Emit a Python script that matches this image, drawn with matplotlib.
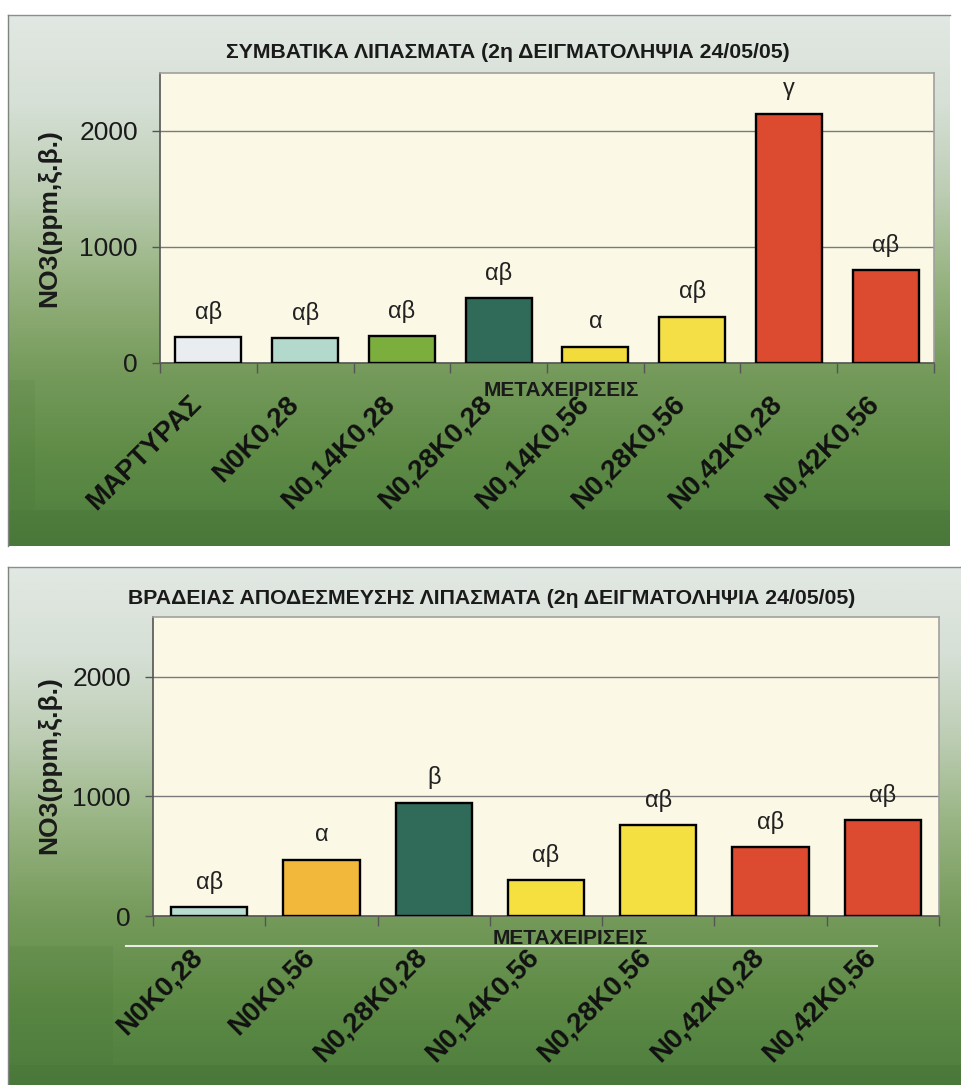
import numpy as np
import matplotlib
matplotlib.use("Agg")
import matplotlib.pyplot as plt
import matplotlib.transforms as mtrans
from matplotlib.colors import LinearSegmentedColormap

plt.rcParams['font.family'] = ['Liberation Sans', 'DejaVu Sans']

# ---------------- data ----------------
title1 = "ΣΥΜΒΑΤΙΚΑ ΛΙΠΑΣΜΑΤΑ (2η ΔΕΙΓΜΑΤΟΛΗΨΙΑ 24/05/05)"
cats1 = ['ΜΑΡΤΥΡΑΣ', 'N0K0,28', 'N0,14K0,28', 'N0,28K0,28',
         'N0,14K0,56', 'N0,28K0,56', 'N0,42K0,28', 'N0,42K0,56']
vals1 = [220, 215, 230, 560, 140, 400, 2150, 800]
letters1 = ['αβ', 'αβ', 'αβ', 'αβ', 'α', 'αβ', 'γ', 'αβ']
colors1 = ['#e9edf0', '#b3d9cc', '#7bae3c', '#2f6b58',
           '#f2dc3c', '#f4df46', '#dc4a30', '#dc4a30']

title2 = "ΒΡΑΔΕΙΑΣ ΑΠΟΔΕΣΜΕΥΣΗΣ ΛΙΠΑΣΜΑΤΑ (2η ΔΕΙΓΜΑΤΟΛΗΨΙΑ 24/05/05)"
cats2 = ['N0K0,28', 'N0K0,56', 'N0,28K0,28', 'N0,14K0,56',
         'N0,28K0,56', 'N0,42K0,28', 'N0,42K0,56']
vals2 = [75, 470, 945, 300, 760, 575, 800]
letters2 = ['αβ', 'α', 'β', 'αβ', 'αβ', 'αβ', 'αβ']
colors2 = ['#b8dccf', '#f2b83c', '#2f6b58', '#f5e040',
           '#f5e042', '#dc4a30', '#dc4a30']

ylabel = "NO3(ppm,ξ.β.)"
xlabel = "ΜΕΤΑΧΕΙΡΙΣΕΙΣ"
yticks = [0, 1000, 2000]
ymax = 2500

# ---------------- figure ----------------
W, H = 962, 1085
fig = plt.figure(figsize=(W / 100, H / 100), dpi=100)
fig.patch.set_facecolor('white')

# background panels (pixel coordinates)
bg = fig.add_axes([0, 0, 1, 1], zorder=-10)
bg.set_xlim(0, W)
bg.set_ylim(H, 0)
bg.axis('off')

stops = ['#e2e8e3', '#d6e0d6', '#bccdb3', '#97b381', '#769b5c', '#5e8b46', '#4e7e3e']
cmap = LinearSegmentedColormap.from_list('bggrad', stops)
grad = np.linspace(0, 1, 256).reshape(-1, 1)


def panel(x0, x1, y0, y1, band_top, left_band=None):
    bg.imshow(grad, cmap=cmap, aspect='auto', extent=[x0, x1, y1, y0],
              interpolation='bilinear', zorder=0)
    bg.add_patch(plt.Rectangle((x0, band_top), x1 - x0, y1 - band_top,
                               facecolor='#2d5a25', alpha=0.14, lw=0, zorder=1))
    if left_band is not None:
        bg.add_patch(plt.Rectangle((x0, left_band[0]), left_band[1] - x0,
                                   band_top - left_band[0],
                                   facecolor='#2d5a25', alpha=0.07, lw=0, zorder=1))
    bg.plot([x0, x1], [y0, y0], color='#8a8f8a', lw=1.0, zorder=2)
    bg.plot([x0, x0], [y0, y1], color='#7d857d', lw=1.0, zorder=2)


panel(8, 950, 15, 546, 510, left_band=(380, 35))
panel(8, 962, 567, 1085, 1065, left_band=(946, 113))
bg.plot([126, 877], [946, 946], color='#e8ece4', lw=1.5, zorder=3)


def draw(ax_rect, cats, vals, letters, colors, title, title_xy, ylab_xy, xlab_xy):
    ax = fig.add_axes(ax_rect)
    ax.set_facecolor('#fbf9e6')
    x = np.arange(len(cats))
    ax.bar(x, vals, width=0.68, color=colors, edgecolor='black', linewidth=1.7, zorder=3)
    for xi, v, lab in zip(x, vals, letters):
        ax.annotate(lab, (xi, v), xytext=(0, 18), textcoords='offset points',
                    ha='center', va='center', fontsize=17, color='#222222', zorder=4)
    ax.set_xlim(-0.5, len(cats) - 0.5)
    ax.set_ylim(0, ymax)
    ax.set_yticks(yticks)
    ax.set_yticklabels([str(t) for t in yticks], fontsize=19, color='#1a1a1a')
    ax.yaxis.grid(True, color='#7a7a7a', lw=1.0, zorder=1)
    ax.set_axisbelow(True)
    ax.tick_params(axis='y', length=6, width=1, color='#555555', pad=10)
    # category labels: rotated, drawn as text under each category
    ax.set_xticks(x)
    ax.set_xticklabels([])
    ax.tick_params(axis='x', which='major', length=0)
    lab_trans = ax.get_xaxis_transform() + mtrans.ScaledTranslation(
        -11 / 100, -37 / 100, fig.dpi_scale_trans)
    for xi, c in zip(x, cats):
        ax.text(xi, 0, c, transform=lab_trans, rotation=45, ha='right', va='center',
                rotation_mode='anchor', fontsize=20, fontweight='bold',
                color='#111111', clip_on=False)
    ax.set_xticks(np.arange(len(cats) + 1) - 0.5, minor=True)
    ax.tick_params(axis='x', which='minor', length=7, width=1, color='#555555')
    for s in ['left', 'bottom']:
        ax.spines[s].set_color('#555555')
        ax.spines[s].set_linewidth(1.2)
    for s in ['top', 'right']:
        ax.spines[s].set_color('#a0a0a0')
        ax.spines[s].set_linewidth(1.2)
    fig.text(title_xy[0] / W, 1 - title_xy[1] / H, title, ha='center', va='center',
             fontsize=15.3, fontweight='bold', color='#1a1a1a')
    fig.text(ylab_xy[0] / W, 1 - ylab_xy[1] / H, ylabel, ha='center', va='center',
             rotation=90, fontsize=19, fontweight='bold', color='#1a1a1a')
    fig.text(xlab_xy[0] / W, 1 - xlab_xy[1] / H, xlabel, ha='center', va='center',
             fontsize=15, fontweight='bold', color='#1a1a1a', zorder=10)
    return ax


def rect(l, r, t, b):
    return [l / W, 1 - b / H, (r - l) / W, (b - t) / H]


draw(rect(160, 934, 73, 363), cats1, vals1, letters1, colors1,
     title1, (508, 52), (49, 218), (561, 391))
draw(rect(153, 939, 617, 916), cats2, vals2, letters2, colors2,
     title2, (492, 598), (49, 765), (570, 938))

fig.savefig('out.png', dpi=100, facecolor=fig.get_facecolor())
